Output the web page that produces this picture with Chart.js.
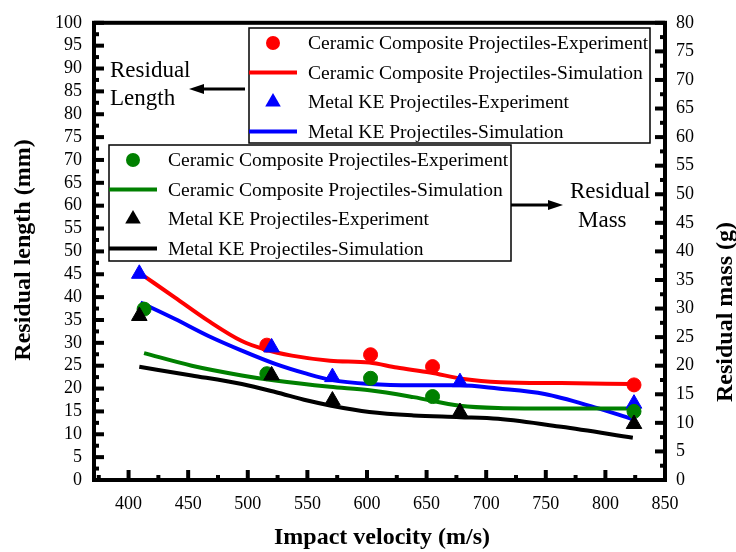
<!DOCTYPE html>
<html>
<head>
<meta charset="utf-8">
<script src="https://cdn.jsdelivr.net/npm/chart.js@4.4.0/dist/chart.umd.min.js"></script>
<style>
  body { margin: 0; background: #fff; }
  canvas { display: block; }
</style>
</head>
<body>
<canvas id="myChart" width="736" height="552"></canvas>
<script>
// tick values
const xTicks = [400, 450, 500, 550, 600, 650, 700, 750, 800, 850];
const lengthTicks = [0, 5, 10, 15, 20, 25, 30, 35, 40, 45, 50, 55, 60, 65, 70, 75, 80, 85, 90, 95, 100];
const massTicks = [0, 5, 10, 15, 20, 25, 30, 35, 40, 45, 50, 55, 60, 65, 70, 75, 80];

// experiments (velocity m/s)
const ceramicVel = [516, 603, 655, 824];
const ceramicLength = [29.5, 27.4, 24.8, 20.8];
const metalVel = [409, 520, 571, 678, 824];
const metalLength = [45.1, 29.0, 22.5, 21.4, 16.7];
const ceramicMassVel = [413, 516, 603, 655, 824];
const ceramicMass = [29.9, 18.6, 17.8, 14.6, 12.0];
const metalMass = [28.7, 18.3, 13.9, 11.9, 9.8];

// simulation curves
const ceramicLenSimVel = [413, 439, 467, 495, 514, 537, 569, 602, 625, 653, 681, 712, 763, 822];
const ceramicLenSim = [44.6, 39.9, 34.8, 30.4, 28.6, 27.2, 26.1, 25.7, 24.6, 23.5, 22.1, 21.4, 21.2, 21.0];
const metalLenSimVel = [410, 439, 467, 495, 523, 550, 570, 602, 639, 678, 710, 749, 791, 822];
const metalLenSim = [38.8, 35.2, 31.5, 28.3, 25.4, 23.2, 21.9, 21.0, 20.7, 20.7, 20.0, 18.8, 15.9, 13.4];
const ceramicMassSimVel = [413, 453, 495, 523, 569, 602, 639, 678, 710, 763, 822];
const ceramicMassSim = [22.2, 20.0, 18.3, 17.4, 16.3, 15.7, 14.5, 13.0, 12.6, 12.5, 12.5];
const metalMassSimVel = [409, 453, 495, 523, 550, 570, 602, 639, 678, 710, 763, 823];
const metalMassSim = [19.8, 18.3, 16.8, 15.4, 13.9, 13.0, 11.9, 11.3, 11.0, 10.7, 9.3, 7.4];

const legendTop = [
    { label: 'Ceramic Composite Projectiles-Experiment', color: '#ff0000', kind: 'circle' },
    { label: 'Ceramic Composite Projectiles-Simulation', color: '#ff0000', kind: 'line' },
    { label: 'Metal KE Projectiles-Experiment', color: '#0000ff', kind: 'triangle' },
    { label: 'Metal KE Projectiles-Simulation', color: '#0000ff', kind: 'line' }
];
const legendBottom = [
    { label: 'Ceramic Composite Projectiles-Experiment', color: '#008000', kind: 'circle' },
    { label: 'Ceramic Composite Projectiles-Simulation', color: '#008000', kind: 'line' },
    { label: 'Metal KE Projectiles-Experiment', color: '#000000', kind: 'triangle' },
    { label: 'Metal KE Projectiles-Simulation', color: '#000000', kind: 'line' }
];

const SERIF = '"Liberation Serif", "Times New Roman", serif';

function pts(xs, ys) {
    return xs.map((x, i) => ({ x: x, y: ys[i] }));
}

function marker(color, shape, axis, xs, ys) {
    return {
        type: 'scatter',
        data: pts(xs, ys),
        yAxisID: axis,
        pointStyle: shape,
        pointRadius: shape === 'triangle' ? 9 : 7,
        pointBackgroundColor: color,
        pointBorderColor: color,
        pointBorderWidth: 1,
        showLine: false
    };
}

function curve(color, axis, xs, ys) {
    return {
        type: 'line',
        data: pts(xs, ys),
        yAxisID: axis,
        borderColor: color,
        borderWidth: 4,
        pointRadius: 0,
        fill: false,
        cubicInterpolationMode: 'monotone'
    };
}

function drawMark(ctx, kind, color, x, y) {
    ctx.fillStyle = color;
    ctx.strokeStyle = color;
    if (kind === 'circle') {
        ctx.beginPath();
        ctx.arc(x, y, 7, 0, Math.PI * 2);
        ctx.fill();
    } else if (kind === 'triangle') {
        const r = 9;
        ctx.beginPath();
        ctx.moveTo(x, y - r);
        ctx.lineTo(x + r * 0.866, y + r / 2);
        ctx.lineTo(x - r * 0.866, y + r / 2);
        ctx.closePath();
        ctx.fill();
    } else {
        ctx.lineWidth = 4;
        ctx.beginPath();
        ctx.moveTo(x - 24, y);
        ctx.lineTo(x + 24, y);
        ctx.stroke();
    }
}

function drawLegend(ctx, box, items) {
    ctx.save();
    ctx.fillStyle = '#fff';
    ctx.fillRect(box.x, box.y, box.w, box.h);
    ctx.lineWidth = 1.5;
    ctx.strokeStyle = '#000';
    ctx.strokeRect(box.x, box.y, box.w, box.h);
    ctx.font = '19.5px ' + SERIF;
    ctx.textAlign = 'left';
    ctx.textBaseline = 'middle';
    items.forEach((it, i) => {
        const y = box.y + 15 + i * 29.5;
        drawMark(ctx, it.kind, it.color, box.x + 24, y);
        ctx.fillStyle = '#000';
        ctx.fillText(it.label, box.x + 59, y + 1);
    });
    ctx.restore();
}

function arrow(ctx, x1, x2, y) {
    const dir = x2 > x1 ? 1 : -1;
    ctx.lineWidth = 3;
    ctx.strokeStyle = '#000';
    ctx.fillStyle = '#000';
    ctx.beginPath();
    ctx.moveTo(x1, y);
    ctx.lineTo(x2 - dir * 10, y);
    ctx.stroke();
    ctx.beginPath();
    ctx.moveTo(x2, y);
    ctx.lineTo(x2 - dir * 15, y - 5);
    ctx.lineTo(x2 - dir * 15, y + 5);
    ctx.closePath();
    ctx.fill();
}

const frame = {
    id: 'frame',
    afterDraw(chart) {
        const ctx = chart.ctx;
        const a = chart.chartArea;
        const sx = chart.scales.x, sy = chart.scales.y, sy2 = chart.scales.y2;
        ctx.save();
        ctx.strokeStyle = '#000';
        ctx.fillStyle = '#000';
        ctx.lineWidth = 4;
        ctx.strokeRect(a.left, a.top, a.right - a.left, a.bottom - a.top);

        // inward ticks, minor half way between majors
        ctx.lineWidth = 4;
        const tick = (x1, y1, x2, y2) => {
            ctx.beginPath(); ctx.moveTo(x1, y1); ctx.lineTo(x2, y2); ctx.stroke();
        };
        lengthTicks.forEach((v, i) => {
            const y = sy.getPixelForValue(v);
            tick(a.left, y, a.left + 10, y);
            if (i > 0) {
                const m = sy.getPixelForValue(v - 2.5);
                tick(a.left, m, a.left + 5, m);
            }
        });
        massTicks.forEach((v, i) => {
            const y = sy2.getPixelForValue(v);
            tick(a.right, y, a.right - 10, y);
            if (i > 0) {
                const m = sy2.getPixelForValue(v - 2.5);
                tick(a.right, m, a.right - 5, m);
            }
        });
        xTicks.forEach((v) => {
            const x = sx.getPixelForValue(v);
            tick(x, a.bottom, x, a.bottom - 10);
            const m = sx.getPixelForValue(v - 25);
            if (m > a.left) tick(m, a.bottom, m, a.bottom - 5);
        });

        // legends
        drawLegend(ctx, { x: 249, y: 28, w: 401, h: 115 }, legendTop);
        drawLegend(ctx, { x: 109, y: 145, w: 402, h: 116 }, legendBottom);

        // axis titles
        ctx.fillStyle = '#000';
        ctx.font = 'bold 24px ' + SERIF;
        ctx.textAlign = 'center';
        ctx.textBaseline = 'middle';
        ctx.fillText('Impact velocity (m/s)', 382, 538);
        ctx.save();
        ctx.translate(24, 250);
        ctx.rotate(-Math.PI / 2);
        ctx.fillText('Residual length (mm)', 0, 0);
        ctx.restore();
        ctx.save();
        ctx.translate(726, 312);
        ctx.rotate(-Math.PI / 2);
        ctx.fillText('Residual mass (g)', 0, 0);
        ctx.restore();

        // annotations
        ctx.font = '23px ' + SERIF;
        ctx.textAlign = 'left';
        ctx.fillStyle = '#000';
        ctx.fillText('Residual', 110, 71);
        ctx.fillText('Length', 110, 99);
        arrow(ctx, 245, 189, 89);
        ctx.fillStyle = '#000';
        ctx.fillText('Residual', 570, 192);
        ctx.fillText('Mass', 578, 221);
        arrow(ctx, 511, 563, 205);
        ctx.restore();
    }
};

const tickFont = { family: SERIF, size: 18 };

new Chart(document.getElementById('myChart'), {
    data: {
        datasets: [
            marker('#000000', 'triangle', 'y2', metalVel, metalMass),
            marker('#008000', 'circle', 'y2', ceramicMassVel, ceramicMass),
            marker('#0000ff', 'triangle', 'y', metalVel, metalLength),
            marker('#ff0000', 'circle', 'y', ceramicVel, ceramicLength),
            curve('#000000', 'y2', metalMassSimVel, metalMassSim),
            curve('#008000', 'y2', ceramicMassSimVel, ceramicMassSim),
            curve('#0000ff', 'y', metalLenSimVel, metalLenSim),
            curve('#ff0000', 'y', ceramicLenSimVel, ceramicLenSim)
        ]
    },
    options: {
        responsive: false,
        animation: false,
        devicePixelRatio: 1,
        layout: { padding: { top: 20, left: 0, right: 0, bottom: 0 } },
        plugins: { legend: { display: false }, tooltip: { enabled: false } },
        scales: {
            x: {
                type: 'linear',
                min: 371,
                max: 850,
                afterBuildTicks: (s) => { s.ticks = xTicks.map(v => ({ value: v })); },
                afterFit: (s) => { s.height = 72; },
                grid: { display: false, drawTicks: false },
                border: { display: false },
                ticks: { color: '#000', font: tickFont, padding: 13, maxRotation: 0, autoSkip: false }
            },
            y: {
                type: 'linear',
                position: 'left',
                min: 0,
                max: 100,
                afterBuildTicks: (s) => { s.ticks = lengthTicks.map(v => ({ value: v })); },
                afterFit: (s) => { s.width = 94; },
                grid: { display: false, drawTicks: false },
                border: { display: false },
                ticks: { color: '#000', font: tickFont, padding: 12, autoSkip: false }
            },
            y2: {
                type: 'linear',
                position: 'right',
                min: 0,
                max: 80,
                afterBuildTicks: (s) => { s.ticks = massTicks.map(v => ({ value: v })); },
                afterFit: (s) => { s.width = 71; },
                grid: { display: false, drawTicks: false },
                border: { display: false },
                ticks: { color: '#000', font: tickFont, padding: 11, autoSkip: false }
            }
        }
    },
    plugins: [frame]
});
</script>
</body>
</html>
